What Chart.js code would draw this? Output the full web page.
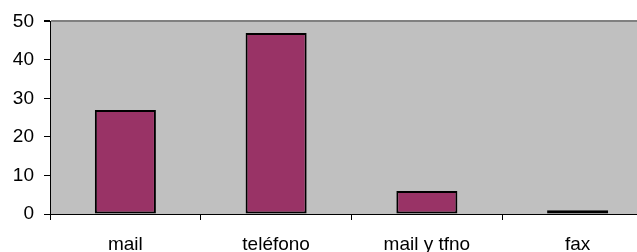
<!DOCTYPE html>
<html>
<head>
<meta charset="utf-8">
<script src="https://cdn.jsdelivr.net/npm/chart.js@4/dist/chart.umd.min.js"></script>
<style>
  html, body { margin: 0; padding: 0; background: #fff; overflow: hidden; }
  #wrap { width: 637px; height: 252px; overflow: hidden; position: relative; }
  #box { width: 653px; height: 252px; position: absolute; left: 0; top: 0; }
</style>
</head>
<body>
<div id="wrap"><div id="box"><canvas id="c"></canvas></div></div>
<script>
const categories = ['mail', 'teléfono', 'mail y tfno', 'fax'];
const values = [27, 47, 6, 1];
const yTicks = [0, 10, 20, 30, 40, 50];

const plotBg = {
  id: 'plotBg',
  beforeDraw(chart) {
    const { ctx, chartArea: a } = chart;
    ctx.save();
    ctx.fillStyle = '#C0C0C0';
    ctx.fillRect(a.left, a.top, a.right - a.left, a.bottom - a.top);
    ctx.restore();
  }
};

new Chart(document.getElementById('c'), {
  type: 'bar',
  data: {
    labels: categories,
    datasets: [{
      data: values,
      backgroundColor: '#993366',
      borderColor: '#000000',
      borderWidth: 2,
      borderSkipped: false,
      categoryPercentage: 1.0,
      barPercentage: 0.405
    }]
  },
  options: {
    responsive: true,
    maintainAspectRatio: false,
    animation: false,
    layout: { padding: { top: 21, left: 0, right: 0, bottom: 0 } },
    plugins: { legend: { display: false }, tooltip: { enabled: false } },
    scales: {
      x: {
        grid: { display: true, drawOnChartArea: false, drawTicks: true, tickLength: 6, tickColor: '#000', offset: true },
        border: { display: true, color: '#000', width: 1 },
        ticks: { color: '#000', font: { family: 'Liberation Sans, Arial', size: 19 }, padding: 13, maxRotation: 0, autoSkip: false },
        afterFit(scale) { scale.height = 38; }
      },
      y: {
        min: 0, max: 50,
        afterBuildTicks(scale) { scale.ticks = yTicks.map(v => ({ value: v })); },
        grid: {
          drawOnChartArea: true, drawTicks: true, tickLength: 6, tickColor: '#000',
          color: (c) => (c.tick && c.tick.value === 50) ? '#808080' : 'rgba(0,0,0,0)',
          lineWidth: (c) => (c.tick && c.tick.value === 50) ? 2 : 1
        },
        border: { display: true, color: '#000', width: 1 },
        ticks: { color: '#000', font: { family: 'Liberation Sans, Arial', size: 19 }, padding: 10 },
        afterFit(scale) { scale.width = 50; }
      }
    }
  },
  plugins: [plotBg]
});
</script>
</body>
</html>
